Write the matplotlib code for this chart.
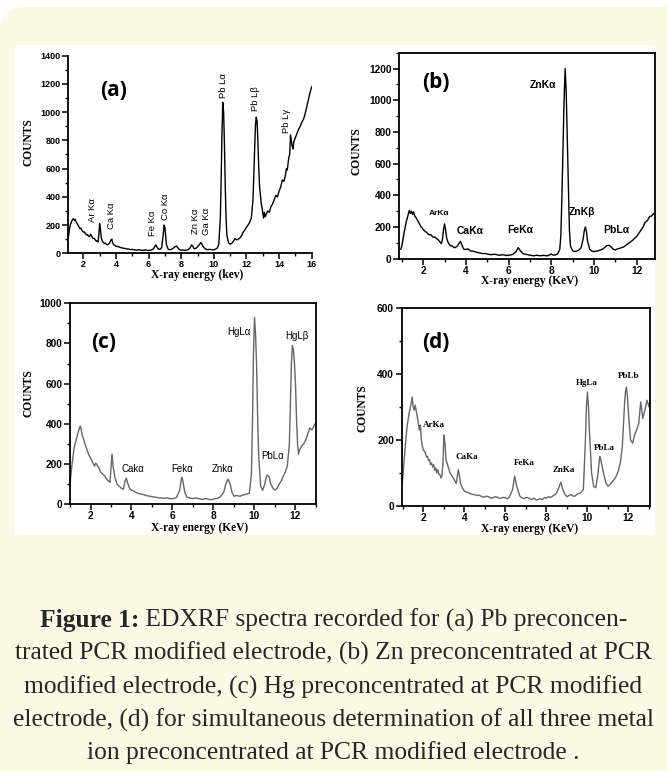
import matplotlib
matplotlib.use('Agg')
import matplotlib.pyplot as plt
from matplotlib.patches import FancyBboxPatch, Rectangle
from matplotlib.transforms import IdentityTransform
from matplotlib.ticker import MultipleLocator

# spectra: (energy keV, counts)
spec_a = [(1.08, 110), (1.15, 170), (1.2, 200), (1.25, 215), (1.3, 230), (1.35, 240), (1.4, 245), (1.45, 235),
          (1.5, 240), (1.55, 225), (1.6, 215), (1.65, 205), (1.7, 195), (1.75, 185), (1.8, 175), (1.85, 178),
          (1.9, 165), (1.95, 158), (2.0, 150), (2.05, 152), (2.1, 145), (2.15, 138), (2.2, 130), (2.25, 134),
          (2.3, 125), (2.35, 118), (2.4, 120), (2.45, 135), (2.5, 125), (2.55, 112), (2.6, 105), (2.65, 108),
          (2.7, 100), (2.75, 92), (2.8, 85), (2.85, 88),
          (2.9, 80), (2.95, 130), (3.0, 210), (3.05, 170), (3.1, 110), (3.15, 92), (3.2, 80), (3.25, 74),
          (3.3, 70), (3.35, 72), (3.4, 65), (3.45, 60),
          (3.5, 62), (3.6, 70), (3.7, 95), (3.75, 100), (3.8, 75), (3.85, 64), (3.9, 58), (3.95, 55), (4.0, 50),
          (4.1, 48), (4.2, 45), (4.3, 40),
          (4.4, 38), (4.5, 35), (4.6, 33), (4.7, 30), (4.8, 30), (4.9, 26), (5.0, 28), (5.1, 25), (5.2, 24),
          (5.3, 22), (5.4, 26), (5.5, 22), (5.6, 22), (5.7, 20), (5.8, 25), (5.9, 21),
          (6.0, 20), (6.1, 22), (6.2, 24), (6.3, 32), (6.4, 50), (6.45, 60), (6.5, 48), (6.6, 30), (6.7, 28),
          (6.8, 40), (6.9, 130), (6.95, 200), (7.0, 185), (7.05, 120), (7.1, 60), (7.2, 30), (7.3, 25),
          (7.4, 28), (7.5, 35), (7.6, 45), (7.7, 52), (7.8, 38), (7.9, 25), (8.0, 22), (8.1, 24), (8.2, 20),
          (8.3, 22), (8.4, 25), (8.5, 32), (8.6, 50), (8.65, 60), (8.7, 52), (8.8, 32), (8.9, 35), (9.0, 45),
          (9.1, 60), (9.2, 75), (9.25, 72), (9.3, 55), (9.4, 40), (9.5, 30), (9.6, 25), (9.7, 27), (9.8, 28),
          (9.9, 24), (10.0, 25), (10.1, 30), (10.2, 35), (10.3, 60), (10.4, 250), (10.45, 520), (10.5, 850),
          (10.55, 1070), (10.6, 1000), (10.65, 780), (10.7, 480), (10.75, 250), (10.8, 130), (10.9, 75),
          (11.0, 65), (11.1, 70), (11.2, 85), (11.3, 105), (11.4, 95), (11.5, 100), (11.6, 110), (11.7, 125),
          (11.8, 150), (11.9, 165), (12.0, 185), (12.1, 200), (12.2, 220), (12.3, 250), (12.4, 380),
          (12.45, 560), (12.5, 760), (12.55, 900), (12.6, 965), (12.65, 940), (12.7, 800), (12.75, 620),
          (12.8, 480), (12.9, 360), (13.0, 290), (13.05, 250), (13.1, 290), (13.15, 260), (13.2, 275),
          (13.3, 300), (13.4, 290), (13.5, 330), (13.6, 350), (13.7, 380), (13.8, 410), (13.9, 400),
          (14.0, 440), (14.1, 470), (14.2, 520), (14.3, 510), (14.4, 560), (14.45, 600), (14.5, 590),
          (14.6, 680), (14.65, 700), (14.7, 840), (14.75, 800), (14.8, 760), (14.85, 740), (14.9, 790),
          (15.0, 820), (15.1, 850), (15.2, 880), (15.3, 900), (15.4, 930), (15.5, 950), (15.6, 990),
          (15.7, 1040), (15.8, 1090), (15.9, 1140), (16.0, 1180)]

spec_b = [(0.95, 60), (1.0, 80), (1.1, 160), (1.2, 230), (1.3, 280), (1.35, 305), (1.4, 285), (1.45, 300),
          (1.5, 280), (1.55, 295), (1.6, 270), (1.65, 262), (1.7, 250), (1.75, 238), (1.8, 225), (1.85, 214),
          (1.9, 200), (1.95, 195), (2.0, 185), (2.05, 178), (2.1, 170), (2.15, 168), (2.2, 160), (2.25, 154),
          (2.3, 150), (2.35, 152), (2.4, 145), (2.45, 138), (2.5, 135), (2.55, 136), (2.6, 130), (2.65, 124),
          (2.7, 120), (2.75, 112), (2.8, 105), (2.85, 95),
          (2.9, 120), (2.95, 180), (3.0, 220), (3.05, 180), (3.1, 130), (3.15, 108), (3.2, 95), (3.25, 86),
          (3.3, 80), (3.35, 82), (3.4, 75), (3.45, 70),
          (3.5, 70), (3.6, 80), (3.7, 100), (3.75, 110), (3.8, 90), (3.9, 60), (4.0, 58), (4.1, 62),
          (4.2, 50), (4.3, 48), (4.4, 45), (4.5, 40), (4.6, 38), (4.7, 35), (4.8, 32), (4.9, 33), (5.0, 30),
          (5.1, 27), (5.2, 25), (5.3, 28), (5.4, 27), (5.5, 23), (5.6, 22), (5.7, 25),
          (5.8, 24), (5.9, 20), (6.0, 22), (6.1, 24), (6.2, 28), (6.35, 45), (6.45, 70), (6.55, 50), (6.7, 30),
          (6.8, 28), (6.9, 25), (7.0, 22),
          (7.1, 20), (7.2, 18), (7.3, 22), (7.4, 20), (7.5, 18), (7.6, 21), (7.7, 20), (7.8, 18), (7.9, 22),
          (8.0, 30), (8.1, 22), (8.2, 24), (8.3, 30),
          (8.4, 60), (8.45, 150), (8.5, 400), (8.55, 700), (8.6, 1000), (8.65, 1200), (8.7, 1050),
          (8.75, 750), (8.8, 420), (8.85, 180), (8.9, 80), (9.0, 50), (9.1, 45), (9.2, 48), (9.3, 55),
          (9.4, 70), (9.5, 130), (9.55, 180), (9.6, 200), (9.65, 170), (9.7, 110), (9.8, 60), (9.9, 48),
          (10.0, 45), (10.1, 48), (10.2, 50), (10.3, 55), (10.4, 60), (10.5, 70), (10.6, 82), (10.7, 85),
          (10.8, 75), (10.9, 60),
          (11.0, 55), (11.1, 62), (11.2, 65), (11.3, 70), (11.4, 75), (11.5, 85), (11.6, 95), (11.7, 105),
          (11.8, 115), (11.9, 128), (12.0, 140), (12.1, 160),
          (12.2, 180), (12.3, 200), (12.4, 230), (12.5, 240), (12.6, 265), (12.7, 270), (12.8, 285),
          (12.86, 280)]

spec_c = [(1.0, 100), (1.1, 200), (1.2, 280), (1.3, 320), (1.4, 360), (1.5, 390), (1.55, 370), (1.6, 340),
          (1.65, 330), (1.7, 310), (1.75, 295), (1.8, 280), (1.85, 265), (1.9, 250), (1.95, 240), (2.0, 230),
          (2.05, 222), (2.1, 210), (2.15, 198), (2.2, 190), (2.25, 205), (2.3, 200), (2.35, 190), (2.4, 185),
          (2.45, 170), (2.5, 160), (2.55, 155), (2.6, 150), (2.65, 146), (2.7, 140), (2.75, 130), (2.8, 125),
          (2.85, 118), (2.9, 115), (2.95, 110), (3.0, 180), (3.05, 250),
          (3.1, 190), (3.2, 130), (3.3, 100), (3.4, 90), (3.5, 80), (3.6, 75), (3.7, 120), (3.75, 130),
          (3.8, 110), (3.9, 80), (4.0, 70), (4.1, 66), (4.2, 60), (4.3, 56), (4.4, 52), (4.5, 50), (4.6, 48),
          (4.7, 44), (4.8, 42), (4.9, 40), (5.0, 38),
          (5.1, 36), (5.2, 35), (5.3, 33), (5.4, 32), (5.5, 31), (5.6, 30), (5.7, 32), (5.8, 30), (5.9, 27),
          (6.0, 28), (6.1, 30), (6.2, 35), (6.35, 70), (6.45, 135),
          (6.5, 120), (6.6, 60), (6.7, 35), (6.8, 33), (6.9, 30), (7.0, 28), (7.1, 32), (7.2, 30), (7.3, 28),
          (7.4, 26), (7.5, 25), (7.6, 28), (7.7, 27), (7.8, 24),
          (7.9, 23), (8.0, 26), (8.1, 28), (8.2, 30), (8.3, 35), (8.4, 45), (8.5, 60), (8.6, 100), (8.7, 125),
          (8.8, 105), (8.9, 60),
          (9.0, 40), (9.1, 44), (9.2, 42), (9.3, 40), (9.4, 45), (9.5, 48), (9.6, 50), (9.75, 55), (9.85, 150),
          (9.9, 400), (9.95, 750),
          (10.0, 930), (10.05, 850), (10.1, 700), (10.15, 450), (10.2, 250), (10.3, 90), (10.4, 70),
          (10.5, 100), (10.6, 145), (10.7, 140), (10.8, 100), (10.9, 80), (11.0, 70), (11.1, 80),
          (11.2, 100), (11.3, 115), (11.4, 140), (11.5, 160), (11.6, 190), (11.7, 300), (11.75, 500),
          (11.8, 700), (11.85, 790), (11.9, 770), (11.95, 700), (12.0, 600), (12.05, 420), (12.1, 300),
          (12.15, 250), (12.2, 270), (12.3, 290), (12.4, 300), (12.5, 320), (12.6, 350), (12.7, 380),
          (12.8, 370), (12.9, 390), (13.0, 410)]

spec_d = [(0.95, 60), (1.0, 90), (1.1, 170), (1.2, 240), (1.3, 280), (1.4, 310), (1.45, 330), (1.5, 300),
          (1.55, 290), (1.6, 305), (1.7, 270), (1.8, 230), (1.85, 245), (1.9, 200), (1.95, 180), (2.0, 170),
          (2.05, 165), (2.1, 160), (2.15, 148), (2.2, 150), (2.25, 138), (2.3, 140), (2.35, 125), (2.4, 130),
          (2.45, 118), (2.5, 125), (2.55, 108), (2.6, 115), (2.65, 100), (2.7, 110), (2.75, 96), (2.8, 95),
          (2.85, 85), (2.9, 90),
          (2.95, 130), (3.0, 215), (3.05, 190), (3.1, 140), (3.2, 120), (3.3, 100), (3.4, 90), (3.5, 80),
          (3.6, 68), (3.65, 90), (3.7, 110), (3.75, 95), (3.8, 70), (3.9, 55), (4.0, 45), (4.1, 42), (4.2, 40),
          (4.3, 37), (4.4, 35), (4.5, 34), (4.6, 32), (4.7, 33), (4.8, 30), (4.9, 27), (5.0, 28), (5.1, 30),
          (5.2, 27), (5.3, 24), (5.4, 25), (5.5, 28), (5.6, 27), (5.7, 23), (5.8, 24), (5.9, 26),
          (6.0, 25), (6.1, 22), (6.2, 28), (6.35, 50), (6.45, 90), (6.55, 60), (6.7, 30), (6.8, 25), (6.9, 22),
          (7.0, 26), (7.1, 25), (7.2, 21),
          (7.3, 20), (7.4, 24), (7.5, 18), (7.6, 20), (7.7, 22), (7.8, 19), (7.9, 25), (8.0, 24), (8.1, 28),
          (8.2, 26), (8.3, 30), (8.4, 34), (8.5, 40), (8.6, 55),
          (8.7, 72), (8.8, 50), (8.9, 35), (9.0, 28), (9.1, 32), (9.2, 35), (9.3, 30), (9.4, 30), (9.5, 36),
          (9.6, 38), (9.7, 42), (9.8, 50),
          (9.9, 200), (9.95, 300), (10.0, 345), (10.05, 300), (10.1, 220), (10.2, 100), (10.3, 60),
          (10.4, 55), (10.5, 90), (10.6, 150), (10.65, 140), (10.7, 125), (10.8, 95), (10.9, 70),
          (11.0, 60), (11.1, 65), (11.2, 72), (11.3, 80), (11.4, 90), (11.5, 105), (11.6, 130),
          (11.7, 180), (11.8, 300), (11.85, 345), (11.9, 360), (11.95, 330), (12.0, 280), (12.1, 200),
          (12.2, 190), (12.3, 215), (12.4, 230), (12.5, 250), (12.6, 315), (12.7, 265), (12.8, 290),
          (12.9, 320), (13.0, 300), (13.05, 320)]

# peak labels: (text, energy, counts)
peaks_a = [('Ar Kα', 2.57, 225), ('Ca Kα', 3.73, 170), ('Fe Kα', 6.24, 123), ('Co Kα', 7.04, 237),
           ('Zn Kα', 8.9, 137), ('Ga Kα', 9.55, 130), ('Pb Lα', 10.6, 1100), ('Pb Lβ', 12.57, 1005),
           ('Pb Lγ', 14.45, 850)]
peaks_b = [('ArKα', 2.75, 283), ('CaKα', 4.19, 177), ('FeKα', 6.53, 181), ('ZnKα', 7.63, 1099),
           ('ZnKβ', 9.45, 297), ('PbLα', 11.03, 179)]
peaks_c = [('Cakα', 4.07, 177), ('Fekα', 6.47, 177), ('Znkα', 8.45, 177), ('HgLα', 9.26, 859),
           ('HgLβ', 12.05, 837), ('PbLα', 10.88, 240)]
peaks_d = [('ArKa', 2.49, 245), ('CaKa', 4.11, 149), ('FeKa', 6.91, 129), ('ZnKa', 8.83, 109),
           ('HgLa', 9.97, 373), ('PbLa', 10.81, 177), ('PbLb', 12.0, 393)]

caption = ['EDXRF spectra recorded for (a) Pb preconcen-',
           'trated PCR modified electrode, (b) Zn preconcentrated at PCR',
           'modified electrode, (c) Hg preconcentrated at PCR modified',
           'electrode, (d) for simultaneous determination of all three metal',
           'ion preconcentrated at PCR modified electrode .']

W, H = 667, 771
fig = plt.figure(figsize=(W / 100, H / 100), dpi=100)
fig.patch.set_facecolor('white')

# cream card and white image area
fig.patches.append(FancyBboxPatch((0, -40), W + 40, H - 7 + 40, boxstyle='round,pad=0,rounding_size=26',
                                  transform=IdentityTransform(), facecolor='#fdf9e5', edgecolor='none',
                                  figure=fig, zorder=-10))
fig.patches.append(Rectangle((15, H - 535), 640, 490, transform=IdentityTransform(), facecolor='white',
                             edgecolor='none', figure=fig, zorder=-9))


def px_axes(left, top, right, bottom):
    return fig.add_axes([left / W, (H - bottom) / H, (right - left) / W, (bottom - top) / H])


def style_axes(ax, xlim, ylim, tick_size, box=True):
    ax.set_xlim(*xlim)
    ax.set_ylim(*ylim)
    ax.set_facecolor('none')
    ax.xaxis.set_major_locator(MultipleLocator(2))
    ax.xaxis.set_minor_locator(MultipleLocator(1))
    ax.yaxis.set_major_locator(MultipleLocator(200))
    ax.yaxis.set_minor_locator(MultipleLocator(100))
    ax.tick_params(which='major', direction='out', length=4, width=1.1, pad=1.5, labelsize=tick_size)
    ax.tick_params(axis='x', which='major', pad=1)
    ax.tick_params(which='minor', direction='out', length=2.5, width=1)
    for lab in ax.get_xticklabels() + ax.get_yticklabels():
        lab.set_fontweight('bold')
        lab.set_family('Liberation Sans')
    for side in ['left', 'bottom', 'top', 'right']:
        ax.spines[side].set_linewidth(1.3)
    if not box:
        ax.spines['top'].set_visible(False)
        ax.spines['right'].set_visible(False)


serif = dict(family='Liberation Serif', fontweight='bold', fontsize=8.3)


def add_frame_labels(ax, letter, letter_xy, counts_xy, xlabel, xlabel_xy):
    fig.text(letter_xy[0] / W, 1 - letter_xy[1] / H, letter, family='Open Sans', fontweight='bold',
             fontsize=15, ha='center', va='center')
    fig.text(counts_xy[0] / W, 1 - counts_xy[1] / H, 'COUNTS', rotation=90, ha='center', va='center', **serif)
    fig.text(xlabel_xy[0] / W, 1 - xlabel_xy[1] / H, xlabel, ha='center', va='center', **serif)


# (a)
ax = px_axes(68.3, 55.7, 311.7, 253.3)
ax.plot([p[0] for p in spec_a], [p[1] for p in spec_a], color='black', lw=1.0)
style_axes(ax, (1.08, 16.0), (0, 1400), 6.5, box=False)
for t, x, y in peaks_a:
    ax.text(x, y, t, rotation=90, ha='center', va='bottom', fontsize=6.8, family='Liberation Sans')
add_frame_labels(ax, '(a)', (114, 90), (28, 142), 'X-ray energy (kev)', (197, 275))

# (b)
ax = px_axes(399.3, 52.7, 655, 258.7)
ax.plot([p[0] for p in spec_b], [p[1] for p in spec_b], color='black', lw=1.0)
style_axes(ax, (0.88, 12.86), (0, 1300), 7.3)
for t, x, y in peaks_b:
    ax.text(x, y, t, ha='center', va='center', fontsize=6 if t == 'ArKα' else 7.5,
            family='Liberation Sans', fontweight='bold')
add_frame_labels(ax, '(b)', (436, 83), (357, 151), 'X-ray energy (KeV)', (530, 281))

# (c)
ax = px_axes(70, 303.3, 316, 504.3)
ax.plot([p[0] for p in spec_c], [p[1] for p in spec_c], color='#666666', lw=1.0)
style_axes(ax, (1.0, 13.0), (0, 1000), 7.3)
for t, x, y in peaks_c:
    ax.text(x, y, t, ha='center', va='center', fontsize=7, family='Liberation Sans')
add_frame_labels(ax, '(c)', (104, 343), (28, 393), 'X-ray energy (KeV)', (200, 528))

# (d)
ax = px_axes(401.7, 307.7, 650, 506)
ax.plot([p[0] for p in spec_d], [p[1] for p in spec_d], color='#666666', lw=1.0)
style_axes(ax, (0.94, 13.05), (0, 600), 7.3)
for t, x, y in peaks_d:
    ax.text(x, y, t, ha='center', va='center', fontsize=6.5, family='Liberation Serif', fontweight='bold')
add_frame_labels(ax, '(d)', (436, 342), (362, 408), 'X-ray energy (KeV)', (530, 529))

# caption: size chosen so the widest line spans the card like in the reference
renderer = fig.canvas.get_renderer()
probe = fig.text(0, 0, caption[3], family='Liberation Serif', fontsize=10)
cap_size = 10 * 640 / probe.get_window_extent(renderer).width
probe.remove()
cap_font = dict(family='Liberation Serif', fontsize=cap_size, color='#262626')
line_y = [620, 653, 687, 720, 753]
bold = fig.text(0, 0, 'Figure 1:', fontweight='bold', va='center', **cap_font)
rest = fig.text(0, 0, ' ' + caption[0], va='center', **cap_font)
wb = bold.get_window_extent(renderer).width
wr = rest.get_window_extent(renderer).width
x0 = (W - wb - wr) / 2
bold.set_position((x0 / W, 1 - line_y[0] / H))
rest.set_position(((x0 + wb) / W, 1 - line_y[0] / H))
for txt, y in zip(caption[1:], line_y[1:]):
    fig.text(0.5, 1 - y / H, txt, ha='center', va='center', **cap_font)

fig.savefig('out.png', dpi=100)
